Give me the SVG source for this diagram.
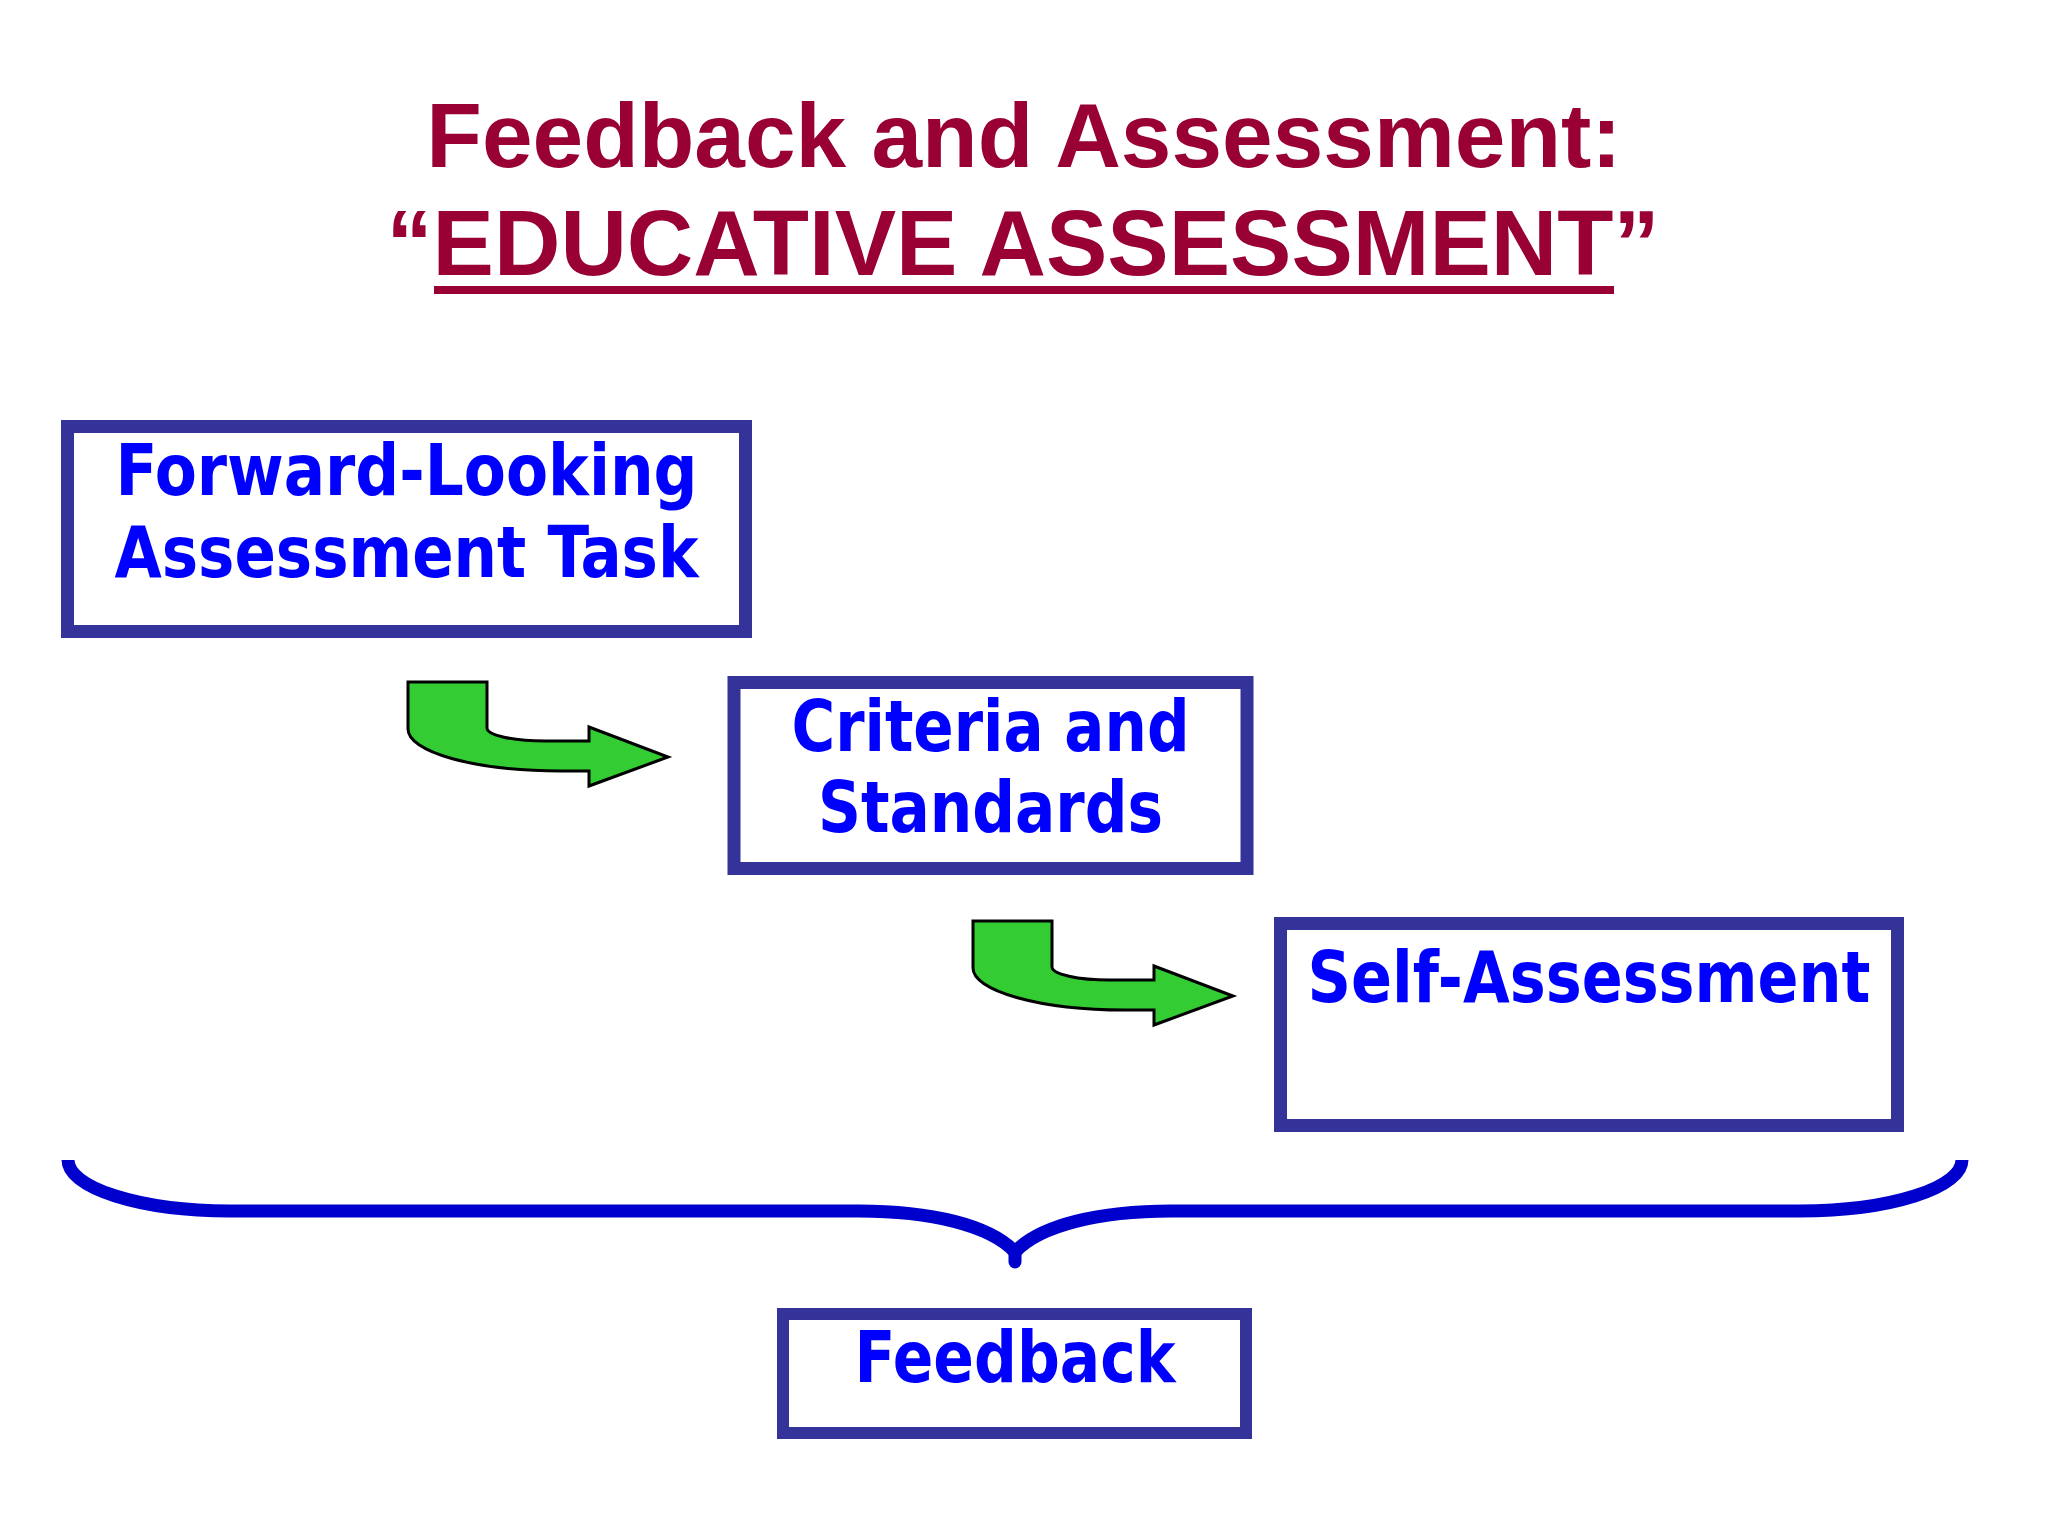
<svg xmlns="http://www.w3.org/2000/svg" width="2048" height="1536" viewBox="0 0 2048 1536">
  <style>
    .title { font-family: "Liberation Sans", Arial, sans-serif; font-weight: bold; font-size: 91px; fill: #990033; text-anchor: middle; }
    .box { fill: #FFFFFF; stroke: #333399; stroke-width: 13; }
    .lbl { font-family: "DejaVu Sans Condensed", "DejaVu Sans", sans-serif; font-stretch: condensed; font-weight: bold; font-size: 71px; fill: #0000FF; text-anchor: middle; }
    .arrow { fill: #33CC33; stroke: #000000; stroke-width: 3; stroke-linejoin: miter; }
    .brace { fill: none; stroke: #0000CC; stroke-width: 13; }
  </style>
  <defs>
    <path id="bentArrow" d="M0,0 H79 V46 A58,13 0 0 0 137,59 H181 V45 L260,75 L181,104 V89 H152 A152,42 0 0 1 0,47 Z"/>
  </defs>
  <rect width="2048" height="1536" fill="#FFFFFF"/>

  <g id="title">
    <text class="title" x="1024" y="167">Feedback and Assessment:</text>
    <text class="title" x="1023" y="275" style="font-size:92px">“EDUCATIVE ASSESSMENT”</text>
    <rect x="434" y="286" width="1180" height="8" fill="#990033"/>
  </g>

  <g id="node-forward-looking">
    <rect class="box" x="67.5" y="426.5" width="678" height="205"/>
    <text class="lbl" x="406.5" y="495" textLength="582" lengthAdjust="spacingAndGlyphs">Forward-Looking</text>
    <text class="lbl" x="406.5" y="577" textLength="584" lengthAdjust="spacingAndGlyphs">Assessment Task</text>
  </g>

  <g id="node-criteria">
    <rect class="box" x="734" y="682.5" width="513" height="186"/>
    <text class="lbl" x="990.5" y="751" textLength="398" lengthAdjust="spacingAndGlyphs">Criteria and</text>
    <text class="lbl" x="990.5" y="832" textLength="345" lengthAdjust="spacingAndGlyphs">Standards</text>
  </g>

  <g id="node-self-assessment">
    <rect class="box" x="1280.5" y="923.5" width="617" height="202"/>
    <text class="lbl" x="1589" y="1002" textLength="563" lengthAdjust="spacingAndGlyphs">Self-Assessment</text>
  </g>

  <g id="node-feedback">
    <rect class="box" x="783" y="1314" width="463" height="119" style="stroke-width:12"/>
    <text class="lbl" x="1015" y="1382" textLength="321" lengthAdjust="spacingAndGlyphs">Feedback</text>
  </g>

  <g id="connectors">
    <use href="#bentArrow" class="arrow" transform="translate(408,682)"/>
    <use href="#bentArrow" class="arrow" transform="translate(973,921)"/>
    <path class="brace" stroke-linejoin="round" d="M68,1160 A162,51 0 0 0 230,1211 H859 C930,1211 990,1225 1015,1252 C1040,1225 1100,1211 1171,1211 H1800 A162,51 0 0 0 1962,1160"/>
    <path class="brace" stroke-width="11" stroke-linecap="round" d="M1015,1250 V1262"/>
  </g>
</svg>
